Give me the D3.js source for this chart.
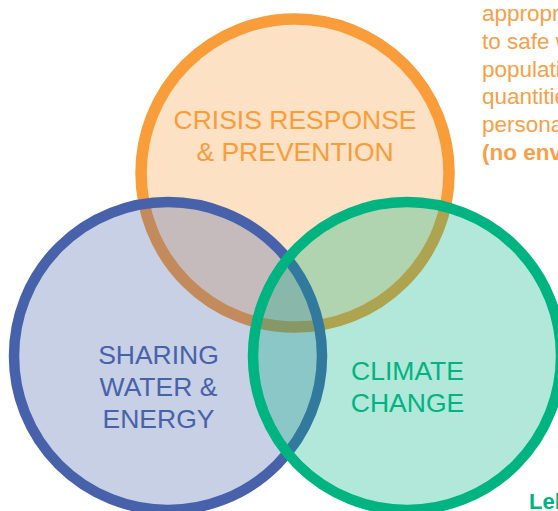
<!DOCTYPE html>
<html>
<head>
<meta charset="utf-8">
<script src="https://cdn.jsdelivr.net/npm/d3@7"></script>
<style>
  html, body { margin: 0; padding: 0; background: #fff; overflow: hidden; }
  svg { display: block; font-family: "Liberation Sans", Arial, sans-serif; }
</style>
</head>
<body>
<div id="venn"></div>
<script>
// the three sets, drawn in this order (later ones sit on top)
var setNames = ["crisis", "water", "climate"];
var setLabels = [
  ["CRISIS RESPONSE", "& PREVENTION"],
  ["SHARING", "WATER &", "ENERGY"],
  ["CLIMATE", "CHANGE"]
];
var setSizes = [1, 1, 1];

// side note, cut off by the page edge in the original
var noteLines = ["appropriate access", "to safe water for the", "population in sufficient", "quantities for drinking and", "personal hygiene", "(no environmental"];
var footLabel = ["Lebanon"];

var width = 558, height = 511;

// layout in "radius units" (1 = one circle radius)
var layout = {
  crisis:  {cx: 0.825, cy: 1.188, dx: 0,    dy: -44, stroke: 11.5},
  water:   {cx: 0,     cy: 0,     dx: -9.5, dy: 8,   stroke: 10.5},
  climate: {cx: 1.552, cy: 0,     dx: 0.5,  dy: 24,  stroke: 10.5}
};
var colors = {crisis: "#f99d3a", water: "#4762aa", climate: "#00b482"};

var x = d3.scaleLinear().domain([0, 1]).range([168, 322]);
var y = d3.scaleLinear().domain([0, 1]).range([356, 202]);
var r = d3.scaleSqrt().domain([0, 1]).range([0, 154]);

var svg = d3.select("#venn")
  .append("svg")
  .attr("width", width)
  .attr("height", height);

var sets = setNames.map(function(name, i) {
  return {name: name, size: setSizes[i], lines: setLabels[i], pos: layout[name]};
});

var g = svg.selectAll(".set")
  .data(sets)
  .enter().append("g")
  .attr("class", "set");

g.append("circle")
  .attr("cx", function(d) { return x(d.pos.cx); })
  .attr("cy", function(d) { return y(d.pos.cy); })
  .attr("r", function(d) { return r(d.size); })
  .attr("fill", function(d) { return colors[d.name]; })
  .attr("fill-opacity", 0.3)
  .attr("stroke", function(d) { return colors[d.name]; })
  .attr("stroke-width", function(d) { return d.pos.stroke; });

// labels go on top of every circle
var labels = svg.selectAll(".label")
  .data(sets)
  .enter().append("text")
  .attr("class", "label")
  .attr("text-anchor", "middle")
  .attr("font-size", "26.5px")
  .attr("fill", function(d) { return colors[d.name]; });

labels.selectAll("tspan")
  .data(function(d) {
    return d.lines.map(function(t, i) {
      return {t: t, i: i, x: x(d.pos.cx) + d.pos.dx, y: y(d.pos.cy) + d.pos.dy};
    });
  })
  .enter().append("tspan")
  .attr("x", function(d) { return d.x; })
  .attr("y", function(d) { return d.y + d.i * 32; })
  .text(function(d) { return d.t; });

svg.append("g")
  .selectAll("text")
  .data(noteLines)
  .enter().append("text")
  .attr("x", 482)
  .attr("y", function(d, i) { return 21 + i * 27.8; })
  .attr("font-size", "22.5px")
  .attr("font-weight", function(d, i) { return i === noteLines.length - 1 ? "bold" : "normal"; })
  .attr("fill", "#f8a048")
  .text(function(d) { return d; });

svg.append("g")
  .selectAll("text")
  .data(footLabel)
  .enter().append("text")
  .attr("x", 529)
  .attr("y", 509)
  .attr("font-size", "22px")
  .attr("font-weight", "bold")
  .attr("fill", colors.climate)
  .text(function(d) { return d; });
</script>
</body>
</html>
